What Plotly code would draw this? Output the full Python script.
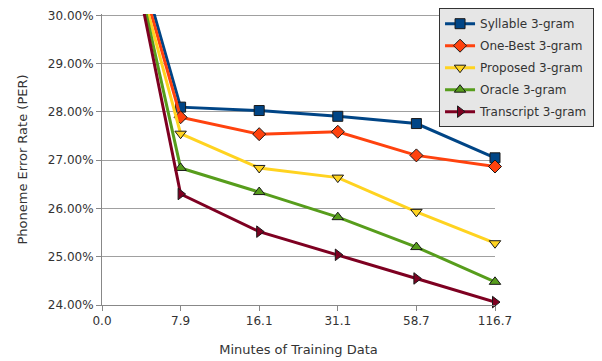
import plotly.graph_objects as go

categories = ["0.0", "7.9", "16.1", "31.1", "58.7", "116.7"]
series_names = ["Syllable 3-gram", "One-Best 3-gram", "Proposed 3-gram", "Oracle 3-gram", "Transcript 3-gram"]
syllable = [33.83, 28.10, 28.03, 27.91, 27.76, 27.05]
one_best = [33.63, 27.89, 27.54, 27.59, 27.10, 26.87]
proposed = [33.60, 27.55, 26.84, 26.64, 25.93, 25.28]
oracle = [34.14, 26.84, 26.34, 25.82, 25.20, 24.48]
transcript = [34.37, 26.30, 25.52, 25.04, 24.55, 24.06]
y_ticks = [24, 25, 26, 27, 28, 29, 30]

colors = ["#004586", "#ff420e", "#ffd320", "#579d1c", "#7e0021"]
symbols = ["square", "diamond", "triangle-down", "triangle-up", "triangle-right"]
values = [syllable, one_best, proposed, oracle, transcript]

font = "DejaVu Sans"
fig = go.Figure()
for name, vals, c, s in zip(series_names, values, colors, symbols):
    fig.add_trace(go.Scatter(
        x=categories, y=vals, name=name, mode="lines+markers",
        legendgroup=name,
        line=dict(color=c, width=3),
        marker=dict(symbol=s, size=10, color=c, line=dict(color="#1a1a1a", width=1)),
        cliponaxis=False,
    ))

fig.update_layout(
    width=602, height=361,
    margin=dict(l=94, r=115, t=6, b=64, autoexpand=False),
    plot_bgcolor="white", paper_bgcolor="white",
    font=dict(family=font, size=12, color="#333333"),
    showlegend=True,
    legend=dict(x=1.252, y=1.02, xanchor="right", yanchor="top",
                bgcolor="#e6e6e6", bordercolor="#333333", borderwidth=1,
                font=dict(size=12, color="#333333"), tracegroupgap=3,
                itemwidth=30),
    xaxis=dict(type="category", range=[0, 5], showgrid=False,
               showline=True, linecolor="#888888", linewidth=1,
               ticks="outside", ticklen=5, tickcolor="#888888",
               title=dict(text="Minutes of Training Data", standoff=17,
                          font=dict(size=13, color="#333333")),
               tickfont=dict(size=12, color="#333333")),
    yaxis=dict(range=[24, 30.03], tickvals=y_ticks,
               ticktext=[f"{v:.2f}%" for v in y_ticks],
               ticklabeloverflow="allow",
               showgrid=True, gridcolor="#a0a0a0", gridwidth=1,
               showline=True, linecolor="#888888", linewidth=1,
               ticks="outside", ticklen=5, tickcolor="#888888",
               zeroline=False,
               title=dict(text="Phoneme Error Rate (PER)", standoff=17,
                          font=dict(size=13, color="#333333")),
               tickfont=dict(size=12, color="#333333")),
)

fig.write_html("out.html")
